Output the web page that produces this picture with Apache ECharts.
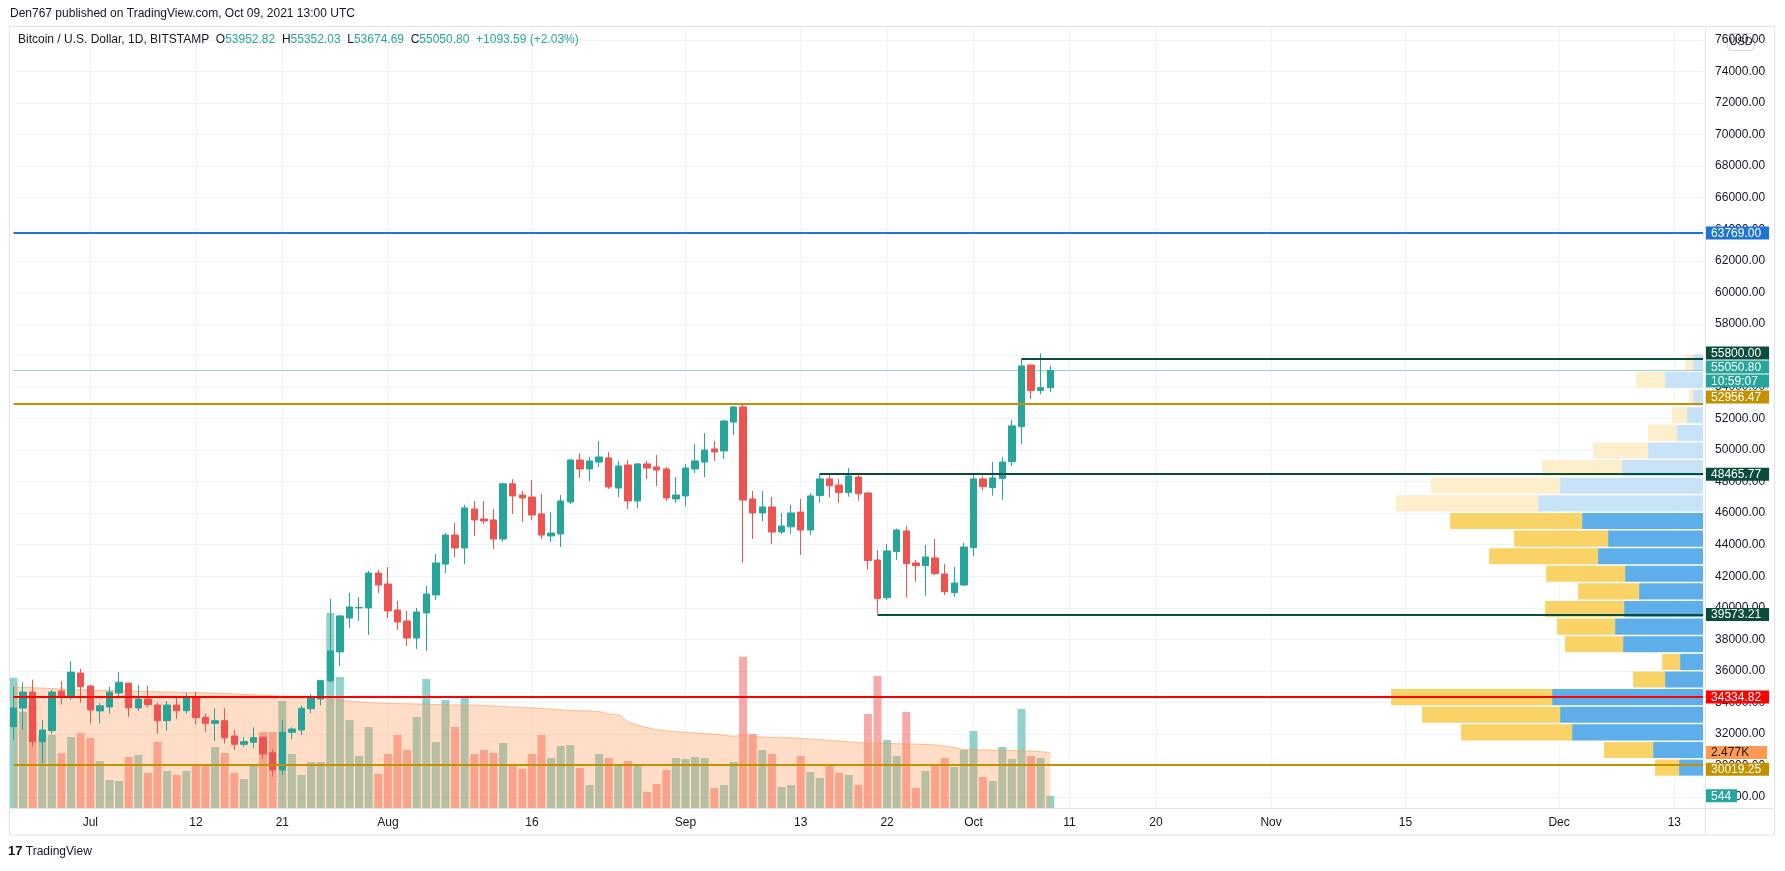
<!DOCTYPE html>
<html>
<head>
<meta charset="utf-8">
<script src="https://cdn.jsdelivr.net/npm/echarts@6/dist/echarts.min.js"></script>
<style>
html, body { margin: 0; padding: 0; background: #fff; }
#chart { width: 1785px; height: 871px; }
</style>
</head>
<body>
<div id="chart"></div>
<script>
// daily categories Jun 23 .. Dec 16 2021 (chart's visible time range)
const categories = [];
for (let d = new Date(Date.UTC(2021, 5, 23)); categories.length < 177; d.setUTCDate(d.getUTCDate() + 1)) {
    categories.push(d.toISOString().slice(0, 10));
}
const tickDates = ['2021-07-01', '2021-07-12', '2021-07-21', '2021-08-01', '2021-08-16', '2021-09-01', '2021-09-13',
    '2021-09-22', '2021-10-01', '2021-10-11', '2021-10-20', '2021-11-01', '2021-11-15', '2021-12-01', '2021-12-13'];
const tickLabels = ['Jul', '12', '21', 'Aug', '16', 'Sep', '13', '22', 'Oct', '11', '20', 'Nov', '15', 'Dec', '13'];

// BTC/USD daily, Jun 23 .. Oct 9
const opens = [32460, 33640, 34650, 31510, 32210, 34720, 34410, 35860, 35040, 33460,
    33710, 34600, 35220, 33650, 34210, 33830, 32840, 33830, 33470, 34300,
    33050, 32670, 32840, 31870, 31340, 31470, 31790, 30810, 29710, 32100,
    32250, 33600, 34215, 35360, 37200, 39350, 39990, 39990, 42200, 41500,
    39860, 39160, 38080, 39670, 40810, 42770, 44610, 43790, 46260, 45630,
    45570, 44360, 47860, 47150, 47020, 45950, 44550, 44680, 46710, 49370,
    48800, 49240, 49500, 47590, 49050, 46770, 49120, 48930, 48800, 46900,
    47090, 48800, 49240, 50070, 49940, 51780, 52730, 46900, 46010, 46390,
    44810, 45130, 46070, 44930, 47110, 48170, 47780, 47300, 48290, 47280,
    43030, 40640, 43560, 44870, 42840, 42670, 43160, 42140, 40960, 41440,
    43810, 48170, 47620, 48190, 49260, 51480, 55390, 53770, 53952.82];
const highs = [34990, 35280, 35450, 32880, 34780, 35330, 36620, 36120, 35100, 33950,
    34990, 35920, 35250, 35100, 35050, 33980, 34090, 34300, 34590, 34650,
    33300, 33620, 33620, 32250, 31790, 32420, 31830, 31020, 32880, 32420,
    33790, 34530, 35400, 40550, 39540, 40940, 40680, 42330, 42390, 42580,
    40430, 39800, 39990, 41380, 43410, 44740, 45370, 46520, 46770, 46770,
    46260, 47930, 48160, 47400, 48100, 47210, 46070, 47150, 49430, 49810,
    49560, 50570, 49880, 49310, 49370, 49180, 49310, 49690, 48930, 48290,
    49120, 50380, 51080, 50570, 51910, 52790, 52920, 47400, 47400, 47020,
    45990, 46520, 46900, 47270, 48520, 48420, 48170, 48860, 48420, 47320,
    43660, 44040, 45020, 45180, 43030, 43980, 44360, 42760, 42580, 44110,
    48420, 48380, 49240, 49560, 51910, 55800, 55400, 56130, 55352.03];
const lows = [31620, 32250, 31190, 30140, 32000, 33860, 34150, 33970, 32670, 32670,
    33280, 34350, 33080, 33460, 33690, 32000, 32200, 32950, 33280, 32610,
    32140, 31550, 31400, 30980, 31190, 31090, 30410, 29280, 29400, 31660,
    31930, 33310, 33800, 35250, 36310, 38720, 39160, 38270, 40940, 39350,
    38590, 37580, 37390, 37260, 40490, 42200, 43220, 42770, 44550, 45310,
    43730, 44190, 45950, 45440, 45570, 44360, 44170, 43850, 46580, 48230,
    48040, 48930, 47530, 47020, 46260, 46330, 48160, 47720, 46770, 46640,
    46450, 48540, 48290, 49310, 49430, 50950, 42840, 44360, 45500, 44040,
    44680, 44680, 43350, 44610, 46660, 46980, 46660, 47040, 46790, 42410,
    39590, 40490, 43030, 40640, 41650, 40770, 42080, 40810, 40700, 41380,
    43280, 47430, 47110, 46850, 48990, 50380, 53240, 53550, 53674.69];
const closes = [33640, 34650, 31510, 32250, 34650, 34350, 35920, 35000, 33520, 33780,
    34650, 35280, 33650, 34210, 33850, 32840, 33830, 33470, 34290, 33030,
    32670, 32840, 31760, 31340, 31510, 31760, 30730, 29710, 32100, 32310,
    33620, 34270, 35380, 37260, 39480, 40050, 40020, 42200, 41440, 39800,
    39100, 38080, 39730, 40870, 42840, 44610, 43790, 46330, 45570, 45500,
    44360, 47860, 47090, 46960, 45880, 44610, 44740, 46770, 49370, 48800,
    49310, 49560, 47660, 48990, 46770, 49120, 48860, 48740, 46960, 47150,
    48860, 49310, 50000, 49880, 51840, 52730, 46830, 46010, 46390, 44800,
    45180, 46010, 44930, 47090, 48170, 47740, 47300, 48360, 47230, 42990,
    40580, 43600, 44930, 42800, 42670, 43220, 42160, 41020, 41570, 43850,
    48170, 47680, 48230, 49240, 51530, 55330, 53770, 53957.21, 55050.80];
const volumes = [5817, 4300, 4597, 3258, 3258, 2440, 3169, 3347, 3124, 2098,
    1250, 1205, 2276, 2365, 1562, 2946, 1651, 1473, 1651, 1874,
    1874, 2722, 2455, 1562, 1294, 1874, 3392, 3392, 4776, 2410,
    1473, 2053, 2053, 8703, 5847, 3928, 2321, 3615, 1518, 2410,
    3258, 2589, 4061, 5757, 2946, 4820, 3615, 4909, 2410, 2589,
    2455, 2901, 1874, 1741, 2410, 3258, 2232, 2767, 2812, 1785,
    1027, 2410, 2232, 1919, 2098, 1874, 714, 1071, 1696, 2232,
    2187, 2276, 2232, 893, 1027, 2053, 6754, 3303, 2589, 2410,
    937, 1027, 2321, 1607, 1339, 1874, 1562, 1473, 1027, 4195,
    5891, 3035, 2321, 4285, 893, 1651, 1874, 2232, 1830, 2589,
    3437, 1384, 1205, 2722, 2187, 4418, 2321, 2232, 544];
const volumeMA = [5390, 5380, 5370, 5350, 5330, 5310, 5290, 5280,
    5270, 5260, 5250, 5240, 5230, 5210, 5200, 5190, 5180, 5170,
    5160, 5150, 5140, 5130, 5110, 5090, 5070, 5050, 5030, 5010,
    5000, 4990, 4980, 4960, 4940, 4900, 4820, 4780, 4740, 4710, 4690,
    4670, 4660, 4650, 4640, 4630, 4620, 4610, 4600, 4600, 4590,
    4570, 4550, 4530, 4510, 4490, 4470, 4440, 4410, 4380, 4350,
    4340, 4330, 4300, 4200, 4150, 3850, 3700, 3590, 3500, 3450, 3410,
    3380, 3350, 3320, 3290, 3250, 3210, 3250, 3200, 3170, 3150,
    3140, 3130, 3110, 3080, 3050, 3020, 2990, 2950, 2920, 2890,
    2890, 2880, 2870, 2860, 2850, 2830, 2810, 2760, 2700, 2620,
    2600, 2590, 2580, 2570, 2560, 2550, 2540, 2510, 2477];

// volume profile (visible range), 24 rows from bottom up
const vpLow = 29320;
const vpStep = 1117.2;
const vpValueAreaTop = 44961;
const vpUp = [240, 500, 1310, 1430, 1510, 380, 230, 800, 880, 790, 640, 780, 1050, 950, 1210, 1650, 1430, 810, 550, 260, 160, 100, 380, 100];
const vpDown = [240, 490, 1110, 1380, 1610, 320, 180, 580, 580, 790, 610, 790, 1090, 940, 1320, 1420, 1290, 800, 550, 290, 150, 40, 290, 80];

// horizontal levels
const levelPrices = [63769, 55800, 52956.47, 48465.77, 39573.21, 34334.82, 30019.25];
const levelColors = ['#1e74d2', '#0b4c3d', '#c29100', '#0b4c3d', '#0b4c3d', '#ff0000', '#c29100'];
const levelStarts = [null, '2021-10-06', null, '2021-09-15', '2021-09-21', null, null];
// price-scale label nudges (px, + = down) where the scale moves labels apart
const levelLabelShift = [0, -5.5, -6.5, 0, 0, 0, 4];

const lastPrice = closes[closes.length - 1];
const countdown = '10:59:07';
const volMALast = '2.477K';

const UP = '#26a69a', DOWN = '#ef5350';
const FONT = '"Liberation Sans", Arial, sans-serif';
const NO_LINE = { color: 'rgba(0,0,0,0)', width: 0 };

const tickSet = new Set(tickDates);
const tickText = {};
tickDates.forEach((d, i) => { tickText[d] = tickLabels[i]; });

const lastCat = categories[categories.length - 1];

// label box on the price scale; shift moves the box off-centre with a blank spacer line
function scaleLabel(bg, lines, color, shift, width) {
    const gap = Math.abs(shift || 0) * 2;
    let parts = lines.map(t => '{b|' + t + '}');
    if (gap > 0) {
        if (shift > 0) parts.unshift('{g| }'); else parts.push('{g| }');
    }
    return {
        show: true, position: 'end', distance: 2,
        formatter: parts.join('\n'),
        rich: {
            b: {
                backgroundColor: bg, color: color || '#fff', padding: [1, 6, 0, 6], lineHeight: 14,
                fontSize: 12, fontFamily: FONT, width: width
            },
            g: { lineHeight: gap, height: gap, fontSize: 1 }
        }
    };
}

const levelLines = levelPrices.map((p, i) => {
    const lineStyle = { color: levelColors[i], width: 2, type: 'solid' };
    const label = scaleLabel(levelColors[i], [p.toFixed(2)], '#fff', levelLabelShift[i], 52);
    if (levelStarts[i]) {
        return [{ coord: [levelStarts[i], p], lineStyle, label }, { coord: [lastCat, p] }];
    }
    return { yAxis: p, lineStyle, label };
});
levelLines.push({
    yAxis: lastPrice,
    lineStyle: { color: UP, width: 1, type: 'dotted' },
    label: scaleLabel(UP, [lastPrice.toFixed(2), countdown], '#fff', 3.6, 52)
});

const candleData = opens.map((o, i) => [o, closes[i], lows[i], highs[i]]);
const volData = volumes.map((v, i) => ({
    value: v,
    itemStyle: { color: closes[i] >= opens[i] ? 'rgba(38,166,154,0.5)' : 'rgba(239,83,80,0.5)' }
}));
const vpData = vpUp.map((u, i) => {
    const lo = vpLow + i * vpStep;
    return [lo, lo + vpStep, u, vpDown[i], lo < vpValueAreaTop ? 1 : 0];
});

const prevClose = closes[closes.length - 2];
const chg = lastPrice - prevClose;
const headerText = '{n|Bitcoin / U.S. Dollar, 1D, BITSTAMP}  {n|O}{v|' + opens[opens.length - 1].toFixed(2) +
    '}  {n|H}{v|' + highs[highs.length - 1].toFixed(2) + '}  {n|L}{v|' + lows[lows.length - 1].toFixed(2) +
    '}  {n|C}{v|' + lastPrice.toFixed(2) + '}  {v|+' + chg.toFixed(2) + ' (+' + (chg / prevClose * 100).toFixed(2) + '%)}';

const GL = 13.5, GR = 81.9;
const chart = echarts.init(document.getElementById('chart'));
chart.setOption({
    animation: false,
    backgroundColor: '#fff',
    textStyle: { fontFamily: FONT },
    grid: [
        { left: GL, right: GR, top: 40, bottom: 74 },
        { left: GL, right: GR, top: 27, bottom: 63 },
        { left: GL, right: GR, top: 40, bottom: 74 }
    ],
    xAxis: [
        { gridIndex: 0, type: 'category', data: categories, boundaryGap: false, show: false },
        {
            gridIndex: 1, type: 'category', data: categories, boundaryGap: false,
            axisLine: { show: false }, axisTick: { show: false },
            axisLabel: {
                interval: (idx, val) => tickSet.has(val), formatter: val => tickText[val] || '',
                color: '#131722', fontSize: 12, margin: 9
            },
            splitLine: { show: true, interval: (idx, val) => tickSet.has(val), lineStyle: { color: '#f0f3fa', width: 1 } }
        },
        { gridIndex: 2, type: 'value', inverse: true, min: 0, max: 16896, show: false }
    ],
    yAxis: [
        {
            gridIndex: 0, type: 'value', position: 'right', min: 28000, max: 76000, interval: 2000,
            axisLine: { show: false }, axisTick: { show: false },
            axisLabel: { color: '#131722', fontSize: 12, margin: 12, formatter: v => v.toFixed(2) },
            splitLine: { lineStyle: { color: '#f0f3fa', width: 1 } }
        },
        { gridIndex: 1, type: 'value', min: 0, max: 34856, show: false, splitLine: { show: false } },
        { gridIndex: 2, type: 'value', min: 28000, max: 76000, show: false, splitLine: { show: false } }
    ],
    series: [
        {
            name: 'Volume', type: 'bar', xAxisIndex: 1, yAxisIndex: 1, data: volData,
            barWidth: 8, clip: false, z: 1,
            markLine: {
                silent: true, symbol: ['none', 'none'],
                data: [
                    { yAxis: volumeMA[volumeMA.length - 1], lineStyle: NO_LINE, label: scaleLabel('#ff9a52', [volMALast], '#131722', 0, 50) },
                    { yAxis: volumes[volumes.length - 1], lineStyle: NO_LINE, label: scaleLabel(UP, [String(volumes[volumes.length - 1])], '#fff', 0) }
                ]
            }
        },
        {
            name: 'Volume MA', type: 'line', xAxisIndex: 1, yAxisIndex: 1, data: volumeMA,
            showSymbol: false, smooth: true, z: 2,
            lineStyle: { color: 'rgba(255,152,82,0.6)', width: 1 },
            areaStyle: { color: 'rgba(255,152,82,0.47)' }
        },
        {
            name: 'VPVR', type: 'custom', xAxisIndex: 2, yAxisIndex: 2, data: vpData, z: 2,
            encode: { x: [2, 3], y: [0, 1] },
            renderItem: (params, api) => {
                const lo = api.value(0), hi = api.value(1), up = api.value(2), dn = api.value(3), va = api.value(4);
                const a = api.coord([0, hi]);
                const b = api.coord([up, lo]);
                const c = api.coord([up + dn, lo]);
                const y = a[1] + 1, h = b[1] - a[1] - 1.5;
                return {
                    type: 'group', children: [
                        { type: 'rect', shape: { x: b[0], y: y, width: a[0] - b[0], height: h }, style: { fill: va ? '#5eaeea' : '#c8e3f7' } },
                        { type: 'rect', shape: { x: c[0], y: y, width: b[0] - c[0], height: h }, style: { fill: va ? '#f9d366' : '#fdeecc' } }
                    ]
                };
            }
        },
        {
            name: 'BTCUSD', type: 'candlestick', xAxisIndex: 0, yAxisIndex: 0, data: candleData,
            barWidth: 7, clip: false, z: 3,
            itemStyle: { color: UP, color0: DOWN, borderColor: UP, borderColor0: DOWN, borderWidth: 1 },
            markLine: { silent: true, symbol: ['none', 'none'], data: levelLines }
        }
    ],
    graphic: [
        { type: 'rect', z: 100, shape: { x: 9.5, y: 26.5, width: 1765, height: 808.5 }, style: { fill: 'none', stroke: '#e0e3eb', lineWidth: 1 } },
        { type: 'line', z: 100, shape: { x1: 1705.5, y1: 26, x2: 1705.5, y2: 835 }, style: { stroke: '#e0e3eb', lineWidth: 1 } },
        { type: 'line', z: 100, shape: { x1: 9, y1: 808.5, x2: 1775, y2: 808.5 }, style: { stroke: '#e0e3eb', lineWidth: 1 } },
        { type: 'text', z: 100, left: 10, top: 8, style: { text: 'Den767 published on TradingView.com, Oct 09, 2021 13:00 UTC', fill: '#131722', font: '12px ' + FONT } },
        {
            type: 'text', z: 100, left: 18, top: 34,
            style: {
                text: headerText, fill: '#131722', font: '12px ' + FONT,
                rich: { n: { fill: '#131722', fontSize: 12, fontFamily: FONT }, v: { fill: UP, fontSize: 12, fontFamily: FONT } }
            }
        },
        {
            type: 'group', z: 100, left: 1727, top: 33, children: [
                { type: 'rect', shape: { x: 0, y: 0, width: 27, height: 17, r: 4 }, style: { fill: '#fff', stroke: '#d1d4dc' } },
                { type: 'text', style: { text: 'USD', x: 13.5, y: 8.5, align: 'center', verticalAlign: 'middle', fill: '#131722', font: '11px ' + FONT } }
            ]
        },
        {
            type: 'text', z: 100, left: 8, top: 845,
            style: {
                text: '{b|17} {t|TradingView}',
                rich: { b: { fill: '#131722', fontSize: 13, fontWeight: 'bold', fontFamily: FONT }, t: { fill: '#131722', fontSize: 12, fontFamily: FONT } }
            }
        }
    ]
});
</script>
</body>
</html>
